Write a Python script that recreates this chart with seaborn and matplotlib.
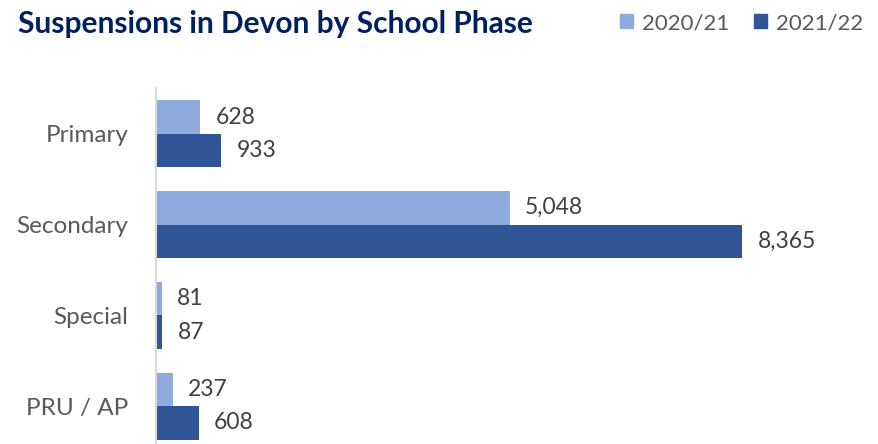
import pandas as pd
import seaborn as sns
import matplotlib.pyplot as plt

phases = ['Primary', 'Secondary', 'Special', 'PRU / AP']
years = ['2020/21', '2021/22']
susp_2021 = [628, 5048, 81, 237]
susp_2122 = [933, 8365, 87, 608]
colors = ['#8FAADC', '#2F5597']

df = pd.DataFrame({
    'Phase': phases * 2,
    'Year': [years[0]] * 4 + [years[1]] * 4,
    'Suspensions': susp_2021 + susp_2122,
})

sns.set_theme(style='white')
plt.rcParams['font.family'] = ['Lato', 'DejaVu Sans']

fig = plt.figure(figsize=(8.79, 4.44), dpi=100)
ax = fig.add_axes([0.1775, -0.0169, 0.8, 0.8176])
sns.barplot(data=df, x='Suspensions', y='Phase', hue='Year', orient='h',
            palette=colors, saturation=1, width=0.74, linewidth=0,
            ax=ax, legend=False)

for cont in ax.containers:
    ax.bar_label(cont, labels=[f'{v:,.0f}' for v in cont.datavalues],
                 padding=11, fontsize=16.5, color='#404040')

ax.set_xlim(0, 10030)
ax.set_xticks([])
ax.set_xlabel('')
ax.set_ylabel('')
ax.tick_params(axis='y', length=0, pad=20, labelsize=17.5, labelcolor='#595959')
for s in ['top', 'right', 'bottom']:
    ax.spines[s].set_visible(False)
ax.spines['left'].set_color('#D9D9D9')
ax.spines['left'].set_linewidth(1.5)

fig.text(0.02, 0.945, 'Suspensions in Devon by School Phase', fontsize=21.5,
         fontweight='bold', color='#002060', va='center')

handles = [plt.Rectangle((0, 0), 1, 1, color=c) for c in colors]
fig.legend(handles, years, loc='center right', bbox_to_anchor=(1.005, 0.948),
           ncol=2, frameon=False, fontsize=16, labelcolor='#595959',
           handlelength=0.6, handleheight=0.6, handletextpad=0.4, columnspacing=1.1)

fig.savefig('out.png', dpi=100)
